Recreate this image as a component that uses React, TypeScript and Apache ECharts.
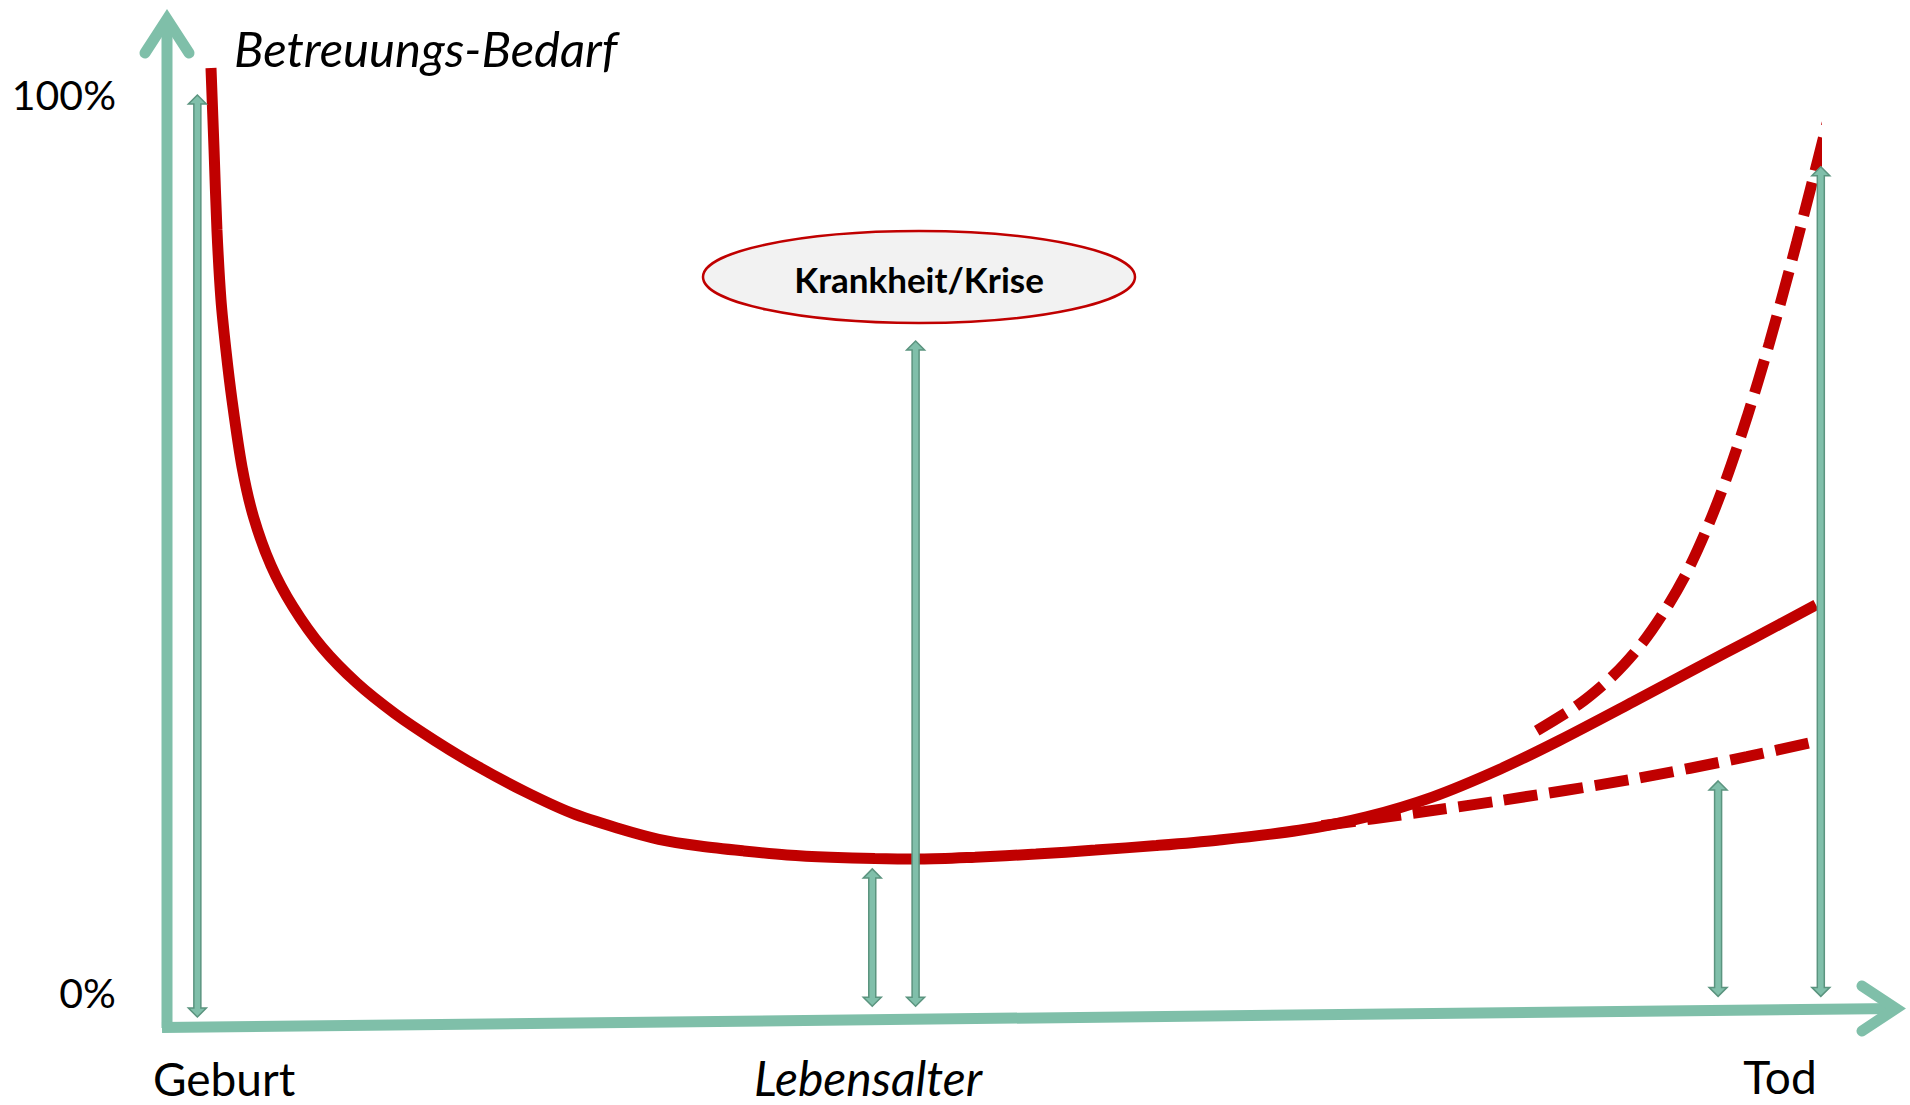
import React, { useEffect, useRef } from "react";
import * as echarts from "echarts";

// ---- texts ----
const yTitle = "Betreuungs-Bedarf";
const xTitle = "Lebensalter";
const xEndLabels = ["Geburt", "Tod"];
const crisisLabel = "Krankheit/Krise";

// ---- y tick labels ----
const yTickValues = [0, 100];
const yTickLabels = ["0%", "100%"];

// ---- main curve (Lebensalter 0..100 = Geburt..Tod, Bedarf in %) ----
const solidX = [0, 0.19, 0.37, 0.62, 0.93, 1.31, 1.93, 2.65, 3.74, 5.11, 6.91, 9.09, 11.46, 13.95, 16.63, 19.56, 22.49, 25.41, 27.9, 30.46, 33.2, 35.88, 38.6, 41.36, 44.2, 47.6, 51.4, 55.1, 58.9, 62.7, 67.8, 72.0, 76.1, 80.3, 84.0, 88.6, 92.7, 96.0, 100];
const solidY = [103, 93.9, 85.0, 77.2, 71.6, 66.0, 58.6, 53.0, 47.6, 43.0, 38.5, 34.5, 31.1, 28.1, 25.2, 22.4, 20.0, 18.3, 17.1, 16.35, 15.8, 15.36, 15.1, 14.95, 14.9, 15.1, 15.45, 15.9, 16.4, 17.0, 18.1, 19.6, 21.8, 24.9, 28.1, 32.4, 36.3, 39.4, 43.2];

// ---- lower dashed scenario ----
const lowX = [69.2, 74.9, 80.3, 88.6, 95.7, 100];
const lowY = [18.6, 20.0, 21.4, 23.8, 26.3, 28.0];

// ---- upper dashed scenario ----
const highX = [82.6, 85.2, 87.4, 89.2, 90.7, 92.0, 93.2, 94.4, 95.7, 97.1, 98.8, 100.8];
const highY = [29.2, 32.1, 35.4, 39.0, 42.9, 47.0, 51.7, 57.2, 64.1, 72.4, 83.6, 97.6];

// ---- vertical double arrows ----
const arrowX = [-0.85, 41.2, 43.9, 93.9, 100.3];
const arrowLow = [-2.7, -1.5, -1.5, -0.4, -0.4];
const arrowHigh = [100, 13.8, 72.6, 23.6, 92.0];

const RED = "#c00000";
const TEAL = "#7fbfa9";
const FONT = "Lato, 'Noto Sans', sans-serif";

export default function App() {
  const ref = useRef<HTMLDivElement>(null);

  useEffect(() => {
    document.body.style.margin = "0";
    if (!ref.current) return;
    const chart = echarts.init(ref.current, undefined, { renderer: "svg" });

    const toPairs = (xs: number[], ys: number[]) => xs.map((x, i) => [x, ys[i]]);

    const option: any = {
      animation: false,
      backgroundColor: "#ffffff",
      grid: { left: 211, right: 94, top: 50.1, bottom: 112.2 },
      xAxis: {
        type: "value",
        min: 0,
        max: 100,
        axisLine: { show: false },
        axisTick: { show: false },
        axisLabel: { show: false },
        splitLine: { show: false },
      },
      yAxis: {
        type: "value",
        min: 0,
        max: 105,
        interval: 100,
        axisLine: { show: false },
        axisTick: { show: false },
        splitLine: { show: false },
        axisLabel: {
          customValues: yTickValues,
          margin: 95,
          fontSize: 41,
          fontFamily: FONT,
          color: "#000",
          formatter: (v: number) => {
            const i = yTickValues.indexOf(v);
            return i >= 0 ? yTickLabels[i] : "";
          },
        },
      },
      series: [
        {
          type: "line",
          data: toPairs(solidX, solidY),
          smooth: 0.3,
          showSymbol: false,
          clip: false,
          lineStyle: { color: RED, width: 11 },
          z: 3,
        },
        {
          type: "line",
          data: toPairs(lowX, lowY),
          smooth: 0.3,
          showSymbol: false,
          clip: false,
          lineStyle: { color: RED, width: 11, type: [34, 12] },
          z: 4,
        },
        {
          type: "line",
          data: toPairs(highX, highY),
          smooth: 0.3,
          showSymbol: false,
          clip: false,
          lineStyle: { color: RED, width: 11, type: [34, 12] },
          z: 4,
        },
        {
          type: "custom",
          clip: false,
          z: 10,
          data: arrowX.map((x, i) => [x, arrowLow[i], arrowHigh[i]]),
          encode: { x: 0, y: [1, 2] },
          renderItem: (params: any, api: any) => {
            const x = api.value(0);
            const b = api.coord([x, api.value(1)]);
            const t = api.coord([x, api.value(2)]);
            const cx = t[0];
            const top = t[1];
            const bot = b[1];
            const sw = 3.5;
            const hw = 9;
            const hl = 9;
            const pts = [
              [cx, top],
              [cx + hw, top + hl],
              [cx + sw, top + hl],
              [cx + sw, bot - hl],
              [cx + hw, bot - hl],
              [cx, bot],
              [cx - hw, bot - hl],
              [cx - sw, bot - hl],
              [cx - sw, top + hl],
              [cx - hw, top + hl],
            ];
            return {
              type: "polygon",
              shape: { points: pts },
              style: { fill: "#80bfaa", stroke: "#5b947f", lineWidth: 1.5 },
            };
          },
        },
      ],
      graphic: [
        // y axis arrow
        { type: "line", z: 1, shape: { x1: 167, y1: 1028, x2: 167, y2: 22 }, style: { stroke: TEAL, lineWidth: 11 } },
        {
          type: "polyline",
          z: 1,
          shape: { points: [[145, 53], [167, 19], [189, 53]] },
          style: { stroke: TEAL, lineWidth: 11, lineCap: "round", lineJoin: "miter", fill: "none" },
        },
        // x axis arrow
        { type: "line", z: 1, shape: { x1: 162, y1: 1027.5, x2: 1896, y2: 1008.5 }, style: { stroke: TEAL, lineWidth: 11 } },
        {
          type: "polyline",
          z: 1,
          shape: { points: [[1862, 986], [1896, 1008.5], [1862, 1031]] },
          style: { stroke: TEAL, lineWidth: 11, lineCap: "round", lineJoin: "miter", fill: "none" },
        },
        // crisis ellipse
        {
          type: "ellipse",
          z: 5,
          shape: { cx: 919, cy: 277, rx: 216, ry: 46 },
          style: { fill: "#f2f2f2", stroke: RED, lineWidth: 2.5 },
        },
        {
          type: "text",
          z: 6,
          x: 919,
          y: 279,
          style: {
            text: crisisLabel,
            fontSize: 35,
            fontWeight: "bold",
            fontFamily: FONT,
            fill: "#000",
            align: "center",
            verticalAlign: "middle",
          },
        },
        // titles
        {
          type: "text",
          z: 6,
          x: 234,
          y: 48,
          style: {
            text: yTitle,
            fontSize: 49,
            fontStyle: "italic",
            fontFamily: FONT,
            fill: "#000",
            align: "left",
            verticalAlign: "middle",
          },
        },
        {
          type: "text",
          z: 6,
          x: 868,
          y: 1077,
          style: {
            text: xTitle,
            fontSize: 48,
            fontStyle: "italic",
            fontFamily: FONT,
            fill: "#000",
            align: "center",
            verticalAlign: "middle",
          },
        },
        {
          type: "text",
          z: 6,
          x: 224,
          y: 1078,
          style: {
            text: xEndLabels[0],
            fontSize: 46,
            fontFamily: FONT,
            fill: "#000",
            align: "center",
            verticalAlign: "middle",
          },
        },
        {
          type: "text",
          z: 6,
          x: 1780,
          y: 1076,
          style: {
            text: xEndLabels[1],
            fontSize: 46,
            fontFamily: FONT,
            fill: "#000",
            align: "center",
            verticalAlign: "middle",
          },
        },
      ],
    };

    chart.setOption(option);
    return () => chart.dispose();
  }, []);

  return <div ref={ref} style={{ width: 1910, height: 1105 }} />;
}
